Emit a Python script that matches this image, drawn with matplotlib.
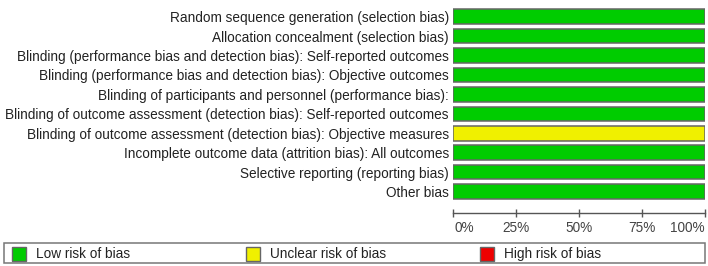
import matplotlib.pyplot as plt
from matplotlib.patches import Rectangle
from matplotlib.transforms import blended_transform_factory

plt.rcParams['font.family'] = ['Liberation Sans', 'DejaVu Sans']

# risk of bias domains, top to bottom
domains = [
    "Random sequence generation (selection bias)",
    "Allocation concealment (selection bias)",
    "Blinding (performance bias and detection bias): Self-reported outcomes",
    "Blinding (performance bias and detection bias): Objective outcomes",
    "Blinding of participants and personnel (performance bias):",
    "Blinding of outcome assessment (detection bias): Self-reported outcomes",
    "Blinding of outcome assessment (detection bias): Objective measures",
    "Incomplete outcome data (attrition bias): All outcomes",
    "Selective reporting (reporting bias)",
    "Other bias",
]
# percentage of studies per judgement
low_risk = [100, 100, 100, 100, 100, 100, 0, 100, 100, 100]
unclear_risk = [0, 0, 0, 0, 0, 0, 100, 0, 0, 0]
high_risk = [0, 0, 0, 0, 0, 0, 0, 0, 0, 0]

tick_vals = [0, 25, 50, 75, 100]
tick_labels = ["0%", "25%", "50%", "75%", "100%"]

legend_labels = ["Low risk of bias", "Unclear risk of bias", "High risk of bias"]
colors = ["#00CC00", "#F0F000", "#EE0000"]
edge = "#666666"

fig = plt.figure(figsize=(7.08, 2.66), dpi=100)
ax = fig.add_axes([0.6398, 0.2436, 0.356, 0.730])

rows = list(range(len(domains)))
left = [0] * len(domains)
for vals, col in zip([low_risk, unclear_risk, high_risk], colors):
    widths = vals
    for r, w, l in zip(rows, widths, left):
        if w > 0:
            ax.barh(r, w, left=l, height=0.75, color=col, edgecolor=edge, linewidth=1.1)
    left = [l + w for l, w in zip(left, widths)]

ax.set_xlim(0, 100)
ax.set_ylim(len(domains) - 0.5, -0.5)
ax.set_yticks(rows)
ax.set_yticklabels(domains, fontsize=9.8, color="#222222")
ax.tick_params(axis='y', length=0, pad=3)

# x ticks; labels drawn by hand so the end ones can sit inside the axis
ax.set_xticks(tick_vals)
ax.set_xticklabels([])
ax.tick_params(axis='x', direction='inout', length=6, width=1, color="#555555")
trans = blended_transform_factory(ax.transData, ax.transAxes)
for i, (v, lab) in enumerate(zip(tick_vals, tick_labels)):
    ha = 'left' if i == 0 else ('right' if i == len(tick_vals) - 1 else 'center')
    ax.text(v + (0.8 if i == 0 else 0), -0.14, lab, transform=trans, ha=ha, va='center',
            fontsize=9.8, color="#444444", clip_on=False)

for s in ['top', 'right', 'left']:
    ax.spines[s].set_visible(False)
ax.spines['bottom'].set_position(('outward', 8.6))
ax.spines['bottom'].set_color("#555555")
ax.spines['bottom'].set_linewidth(1)

# legend box along the bottom
lax = fig.add_axes([0, 0, 1, 1])
lax.set_xlim(0, 708)
lax.set_ylim(266, 0)
lax.axis('off')
lax.add_patch(Rectangle((4, 243), 701, 20, facecolor='white', edgecolor="#777777", linewidth=1.1))
for i, (lab, col) in enumerate(zip(legend_labels, colors)):
    x0 = 12 + i * 234
    lax.add_patch(Rectangle((x0, 246.5), 14, 14, facecolor=col, edgecolor=edge, linewidth=1.0))
    lax.text(x0 + 24, 254, lab, fontsize=9.8, color="#222222", va='center', ha='left')

fig.savefig("out.png", dpi=100)
